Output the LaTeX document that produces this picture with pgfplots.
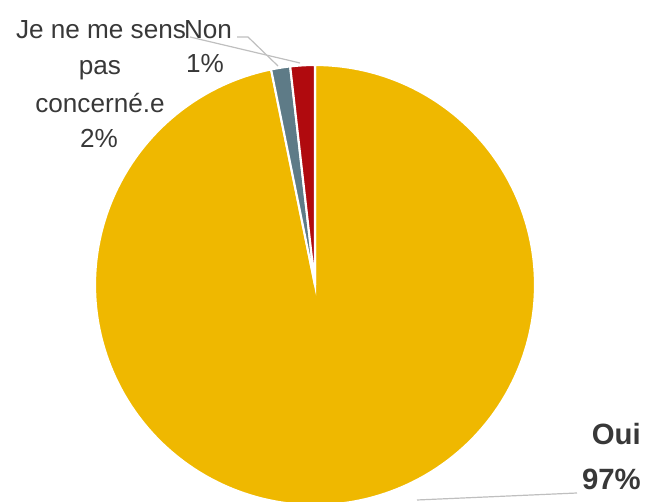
\documentclass[border=0pt]{standalone}
\usepackage{pgfplots}
\pgfplotsset{compat=1.18}
\usepackage{pgfplotstable}
\usepackage{fontspec}
\setmainfont{Liberation Sans}
\definecolor{cOui}{RGB}{239,184,0}
\definecolor{cNon}{RGB}{94,123,135}
\definecolor{cConc}{RGB}{176,10,14}
\definecolor{txt}{RGB}{56,56,56}
\definecolor{lead}{RGB}{191,191,191}

\pgfplotstableread{
label value
Oui 96.8
Non 1.4
Concerne 1.8
}\piedata

\begin{document}
\begin{tikzpicture}
\pgfplotstablegetelem{0}{value}\of\piedata \let\vOui\pgfplotsretval
\pgfplotstablegetelem{1}{value}\of\piedata \let\vNon\pgfplotsretval
\pgfplotstablegetelem{2}{value}\of\piedata \let\vConc\pgfplotsretval
\pgfmathsetmacro\aB{90-3.6*\vOui}
\pgfmathsetmacro\aC{\aB-3.6*\vNon}
\pgfmathsetmacro\aD{\aC-3.6*\vConc}
\begin{axis}[scale only axis, width=484.5pt, height=376.5pt,
  xmin=0, xmax=646, ymin=0, ymax=502, hide axis, clip=true]
\addplot[fill=cOui, draw=white, line width=1.6pt, domain=\aB:90, samples=241, variable=\t]
  ({315+220*cos(\t)},{217+220*sin(\t)}) -- (axis cs:315,217) -- cycle;
\addplot[fill=cNon, draw=white, line width=1.6pt, domain=\aC:\aB, samples=10, variable=\t]
  ({315+220*cos(\t)},{217+220*sin(\t)}) -- (axis cs:315,217) -- cycle;
\addplot[fill=cConc, draw=white, line width=1.6pt, domain=\aD:\aC, samples=10, variable=\t]
  ({315+220*cos(\t)},{217+220*sin(\t)}) -- (axis cs:315,217) -- cycle;

\draw[lead, line width=0.9pt] (axis cs:237,465) -- (axis cs:248,465) -- (axis cs:278,436);
\draw[lead, line width=0.9pt] (axis cs:190,465) -- (axis cs:300,439);
\draw[lead, line width=0.9pt] (axis cs:577,9) -- (axis cs:417,2);

\begin{scope}[every node/.style={text=txt, anchor=base, inner sep=0pt, font=\fontsize{19.6pt}{22pt}\selectfont}]
\node at (axis cs:101,463) {Je ne me sens};
\node at (axis cs:100,427) {pas};
\node at (axis cs:100,389) {concerné.e};
\node at (axis cs:99,354) {2\%};
\node at (axis cs:208,463) {Non};
\node at (axis cs:205,429) {1\%};
\end{scope}
\begin{scope}[every node/.style={text=txt, anchor=base east, inner sep=0pt, font=\fontsize{22pt}{24pt}\selectfont\bfseries}]
\node at (axis cs:641,57) {Oui};
\node at (axis cs:641,12) {97\%};
\end{scope}
\end{axis}
\pgfresetboundingbox
\path (current axis.south west) rectangle (current axis.north east);
\end{tikzpicture}
\end{document}
